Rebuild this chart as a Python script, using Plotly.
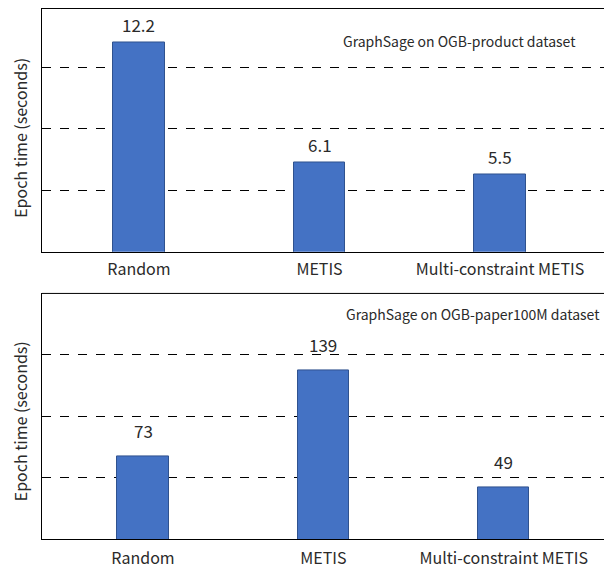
import plotly.graph_objects as go
from plotly.subplots import make_subplots

categories = ["Random", "METIS", "Multi-constraint METIS"]
product_times = [12.2, 6.1, 5.5]
paper_times = [73, 139, 49]
product_labels = ["12.2", "6.1", "5.5"]
paper_labels = ["73", "139", "49"]
y_title = "Epoch time (seconds)"
product_note = "GraphSage on OGB-product dataset"
paper_note = "GraphSage on OGB-paper100M dataset"

FONT = "Noto Sans CJK SC"
TXT = "#2a2a2a"
BAR = "#4472C4"
EDGE = "#2F528F"
OFF = 8            # page body margin in the browser
W, H = 612 - OFF, 569 - OFF


def fy(py):
    """reference page pixel row -> paper y of this figure"""
    return 1 - (py - OFF) / H


def fx(px):
    return (px - OFF) / W


fig = make_subplots(rows=2, cols=1)

panels = [
    dict(row=1, vals=product_times, labels=product_labels, lo=1.56, span=12.47,
         top=6, bot=254, xr=[-0.537, 2.62], note=product_note, nx=459, ny=41, ty=139,
         lift=3, standoff=3),
    dict(row=2, vals=paper_times, labels=paper_labels, lo=9.3, span=189.4,
         top=296, bot=544, xr=[-0.56, 2.60], note=paper_note, nx=473, ny=317, ty=425,
         lift=12, standoff=5),
]

for p in panels:
    r = p["row"]
    top_px = max(p["top"], OFF + 0.5)
    full_h = p["bot"] - p["top"]
    lo = p["lo"]
    hi = lo + p["span"] * (p["bot"] - top_px) / full_h
    grid = [lo + f * p["span"] for f in (0.25, 0.5, 0.75)]
    xa = "x" if r == 1 else "x2"
    ya = "y" if r == 1 else "y2"
    fig.add_trace(go.Bar(x=categories, y=p["vals"], width=0.285,
                         marker=dict(color=BAR, line=dict(color=EDGE, width=1)),
                         showlegend=False, hoverinfo="skip"), row=r, col=1)
    fig.update_xaxes(row=r, col=1, domain=[fx(42), 1], range=p["xr"], showline=True,
                     linecolor="black", linewidth=1, ticks="", showgrid=False,
                     ticklabelstandoff=p["standoff"],
                     tickfont=dict(family=FONT, size=16, color=TXT), zeroline=False)
    fig.update_yaxes(row=r, col=1, domain=[fy(p["bot"]), fy(top_px)], range=[lo, hi],
                     showline=True, linecolor="black", linewidth=1,
                     showticklabels=False, ticks="", tickmode="array", tickvals=grid,
                     showgrid=True, gridcolor="black", gridwidth=1, griddash="dash",
                     zeroline=False)
    fig.add_shape(type="line", xref=f"{xa} domain", yref=f"{ya} domain",
                  x0=0, x1=1, y0=1, y1=1, line=dict(color="black", width=1))
    for c, v, t in zip(categories, p["vals"], p["labels"]):
        fig.add_annotation(x=c, y=v, xref=xa, yref=ya, text=t, showarrow=False,
                           yanchor="bottom", yshift=p["lift"],
                           font=dict(family=FONT, size=17, color=TXT))
    fig.add_annotation(x=fx(p["nx"]), y=fy(p["ny"]), xref="paper", yref="paper",
                       text=p["note"], showarrow=False, xanchor="center",
                       yanchor="middle", font=dict(family=FONT, size=14, color=TXT))
    fig.add_annotation(x=fx(20), y=fy(p["ty"]), xref="paper", yref="paper",
                       text=y_title, textangle=-90, showarrow=False,
                       xanchor="center", yanchor="middle",
                       font=dict(family=FONT, size=16, color=TXT))

fig.update_layout(width=W, height=H, margin=dict(l=0, r=0, t=0, b=0),
                  plot_bgcolor="white", paper_bgcolor="white", bargap=0)
fig.write_html("out.html")
